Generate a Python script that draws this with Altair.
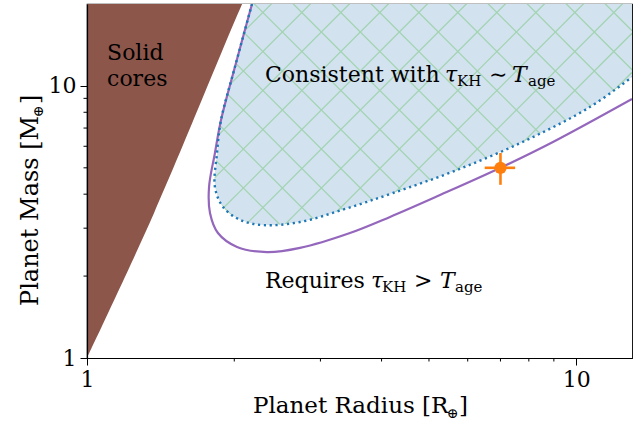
import numpy as np
import pandas as pd
import altair as alt

# ---------------- data ----------------
X_DOMAIN = [1, 13]
Y_DOMAIN = [1, 20]

# purple boundary curve
purple_r = [2.174, 2.006, 1.879, 1.826, 1.776, 1.784, 1.852, 2.026, 2.333, 2.725, 3.447, 4.162, 5.266, 6.984, 8.962, 13.0]
purple_m = [20.0, 11.73, 7.49, 5.67, 4.25, 3.41, 2.88, 2.56, 2.45, 2.54, 2.88, 3.30, 3.97, 4.99, 6.22, 8.95]

# blue dotted boundary of the "consistent" region
blue_r = [2.174, 2.006, 1.879, 1.844, 1.826, 1.897, 2.054, 2.289, 2.725, 3.367, 4.221, 5.705, 7.93, 10.66, 13.0]
blue_m = [20.0, 11.73, 7.49, 5.67, 4.25, 3.59, 3.22, 3.08, 3.16, 3.53, 4.04, 4.91, 6.33, 8.36, 10.78]

# solid-core region edge
core_r = [1.0, 1.371, 2.075]
core_m = [1.0, 3.41, 20.0]

# planet measurement
planet_r = [7.0]
planet_m = [5.0]
planet_r_lo, planet_r_hi = [6.5], [7.5]
planet_m_lo, planet_m_hi = [4.33], [5.67]

# axis ticks
major_ticks = [1, 10]
minor_ticks = [2, 3, 4, 5, 6, 7, 8, 9]

# annotation texts
solid_labels = ["Solid", "cores"]
solid_r = [1.099, 1.099]
solid_m = [12.5, 10.0]

main_labels = ["Consistent with", "\u223c", "Requires", ">"]
main_r = [2.311, 6.632, 2.311, 4.660]
main_m = [10.34, 10.34, 1.808, 1.808]

ital_labels = ["\u03c4", "T", "\u03c4", "T"]
ital_r = [5.391, 7.390, 3.806, 5.266]
ital_m = [10.34, 10.34, 1.808, 1.808]

sub_labels = ["KH", "age", "KH", "age"]
sub_r = [5.705, 7.966, 4.009, 5.651]
sub_m = [10.34, 10.34, 1.808, 1.808]

# ---------------- styling ----------------
W, H = 545, 354
FONT = "DejaVu Serif"
FS = 22
SUB = 15
BLUE_FILL = "#d2e3ef"
HATCH = "#a3d3b1"

xsc = alt.Scale(type="log", domain=X_DOMAIN, nice=False)
ysc = alt.Scale(type="log", domain=Y_DOMAIN, nice=False)

LABEL_EXPR = "datum.value == 1 ? '1' : (datum.value == 10 ? '10' : '')"


def mk_axis():
    return alt.Axis(values=major_ticks, labelExpr=LABEL_EXPR, tickSize=7, title=None,
                    grid=False, labelFont=FONT, labelFontSize=FS, labelColor="black",
                    tickColor="black", tickWidth=1, domainColor="black", domainWidth=1.2,
                    labelPadding=4, labelFlush=False, labelOverlap=False, zindex=1)


def X(field="r"):
    return alt.X(f"{field}:Q", scale=xsc, axis=mk_axis())


def Y(field="m"):
    return alt.Y(f"{field}:Q", scale=ysc, axis=mk_axis())


# polygons (helper vertices lie outside the visible frame)
blue_df = pd.DataFrame({"r": blue_r, "m": blue_m})
fill_poly = pd.concat([blue_df, pd.DataFrame({"r": [20.0, 20.0], "m": [18.7, 100.0]})], ignore_index=True)
fill_poly["i"] = range(len(fill_poly))
outside_poly = pd.concat([blue_df, pd.DataFrame({"r": [20.0, 20.0, 0.5, 0.5],
                                                 "m": [18.7, 0.5, 0.5, 100.0]})], ignore_index=True)
outside_poly["i"] = range(len(outside_poly))
core_poly = pd.concat([pd.DataFrame({"r": core_r, "m": core_m}),
                       pd.DataFrame({"r": [2.3, 0.5, 0.5], "m": [30.0, 30.0, 0.5]})], ignore_index=True)
core_poly["i"] = range(len(core_poly))
purple_df = pd.DataFrame({"r": purple_r, "m": purple_m, "i": range(len(purple_r))})
blue_line_df = blue_df.assign(i=range(len(blue_df)))

blue_fill = alt.Chart(fill_poly).mark_line(fill=BLUE_FILL, strokeOpacity=0, interpolate="catmull-rom", clip=True).encode(
    x=X(), y=Y(), order="i:Q")

# cross hatch: 45-degree lines in screen space
LX, LY = np.log10(X_DOMAIN[1]), np.log10(Y_DOMAIN[1])
s = (W / LX) / (H / LY)
dc = 39.0 / (H / LY)
r0, m0 = (399.3 - 87) / (W / LX), (358 - 110) / (H / LY)
rows = []
for k in range(-40, 40):
    cA = m0 - s * r0 + k * dc
    rows.append({"r": 1.0, "m": 10 ** cA, "r2": X_DOMAIN[1], "m2": 10 ** (cA + s * LX)})
    cB = m0 + s * r0 + k * dc
    rows.append({"r": 1.0, "m": 10 ** cB, "r2": X_DOMAIN[1], "m2": 10 ** (cB - s * LX)})
hatch_df = pd.DataFrame(rows)
hatch_df = hatch_df[(np.maximum(hatch_df.m, hatch_df.m2) > 0.5) & (np.minimum(hatch_df.m, hatch_df.m2) < 40)]
hatch = alt.Chart(hatch_df).mark_rule(color=HATCH, strokeWidth=1.3, clip=True).encode(
    x=X("r"), y=Y("m"), x2="r2:Q", y2="m2:Q")

white_out = alt.Chart(outside_poly).mark_line(fill="white", strokeOpacity=0, interpolate="catmull-rom", clip=True).encode(
    x=X(), y=Y(), order="i:Q")

core = alt.Chart(core_poly).mark_line(fill="#8c564b", strokeOpacity=0, interpolate="catmull-rom", clip=True).encode(
    x=X(), y=Y(), order="i:Q")

purple = alt.Chart(purple_df).mark_line(color="#9467bd", strokeWidth=2.2, interpolate="catmull-rom", clip=True).encode(
    x=X(), y=Y(), order="i:Q")

dotted = alt.Chart(blue_line_df).mark_line(color="#1f77b4", strokeWidth=2.4, strokeDash=[2.2, 3.6],
                                           strokeCap="butt", interpolate="catmull-rom", clip=True).encode(
    x=X(), y=Y(), order="i:Q")

pt_df = pd.DataFrame({"r": planet_r, "m": planet_m, "rlo": planet_r_lo, "rhi": planet_r_hi,
                      "mlo": planet_m_lo, "mhi": planet_m_hi})
err_h = alt.Chart(pt_df).mark_rule(color="#ff7f0e", strokeWidth=2.6).encode(
    x=X("rlo"), x2="rhi:Q", y=Y())
err_v = alt.Chart(pt_df).mark_rule(color="#ff7f0e", strokeWidth=2.6).encode(
    x=X(), y=Y("mlo"), y2="mhi:Q")
pt = alt.Chart(pt_df).mark_circle(color="#ff7f0e", size=150, opacity=1).encode(x=X(), y=Y())

# minor ticks (outside the frame)
minor_df = pd.DataFrame({"v": minor_ticks})
minor_x = alt.Chart(minor_df).mark_rule(color="black", strokeWidth=1).encode(
    x=X("v"), y=alt.value(H), y2=alt.value(H + 3.5))
minor_y = alt.Chart(minor_df).mark_rule(color="black", strokeWidth=1).encode(
    y=Y("v"), x=alt.value(0), x2=alt.value(-3.5))

solid_df = pd.DataFrame({"r": solid_r, "m": solid_m, "t": solid_labels})
solid_txt = alt.Chart(solid_df).mark_text(font=FONT, fontSize=FS, align="left", baseline="alphabetic",
                                          color="black").encode(x=X(), y=Y(), text="t:N")
main_df = pd.DataFrame({"r": main_r, "m": main_m, "t": main_labels})
main_txt = alt.Chart(main_df).mark_text(font=FONT, fontSize=FS, align="left", baseline="alphabetic",
                                        color="black").encode(x=X(), y=Y(), text="t:N")
ital_df = pd.DataFrame({"r": ital_r, "m": ital_m, "t": ital_labels})
ital_txt = alt.Chart(ital_df).mark_text(font=FONT, fontSize=FS, fontStyle="italic", align="left",
                                        baseline="alphabetic", color="black").encode(x=X(), y=Y(), text="t:N")
sub_df = pd.DataFrame({"r": sub_r, "m": sub_m, "t": sub_labels})
sub_txt = alt.Chart(sub_df).mark_text(font=FONT, fontSize=SUB, align="left", baseline="alphabetic",
                                      dy=4, color="black").encode(x=X(), y=Y(), text="t:N")


# axis titles (with subscript earth symbol)
def title_part(text, x, y, size=FS, angle=0):
    return alt.Chart(pd.DataFrame({"t": [text]})).mark_text(
        font=FONT, fontSize=size, align="left", baseline="alphabetic", angle=angle, color="black"
    ).encode(x=alt.value(x), y=alt.value(y), text="t:N")


xt1 = title_part("Planet Radius [R", 166, 409, size=23)
xt2 = title_part("\u2295", 360, 414, size=14)
xt3 = title_part("]", 372, 409, size=23)
yt1 = title_part("Planet Mass [M", -49, 302, size=24, angle=270)
yt2 = title_part("\u2295", -44, 113, size=14, angle=270)
yt3 = title_part("]", -49, 100, size=24, angle=270)

chart = alt.layer(
    blue_fill, hatch, white_out, core, purple, dotted, err_h, err_v, pt, minor_x, minor_y,
    solid_txt, main_txt, ital_txt, sub_txt, xt1, xt2, xt3, yt1, yt2, yt3
).properties(
    width=W, height=H,
    autosize=alt.AutoSizeParams(type="none"),
    padding={"left": 87, "top": 4, "right": 8, "bottom": 68},
    background="white",
).configure_view(stroke="black", strokeWidth=1.2)

chart.save("out.html", embed_options={"renderer": "svg", "actions": False})
